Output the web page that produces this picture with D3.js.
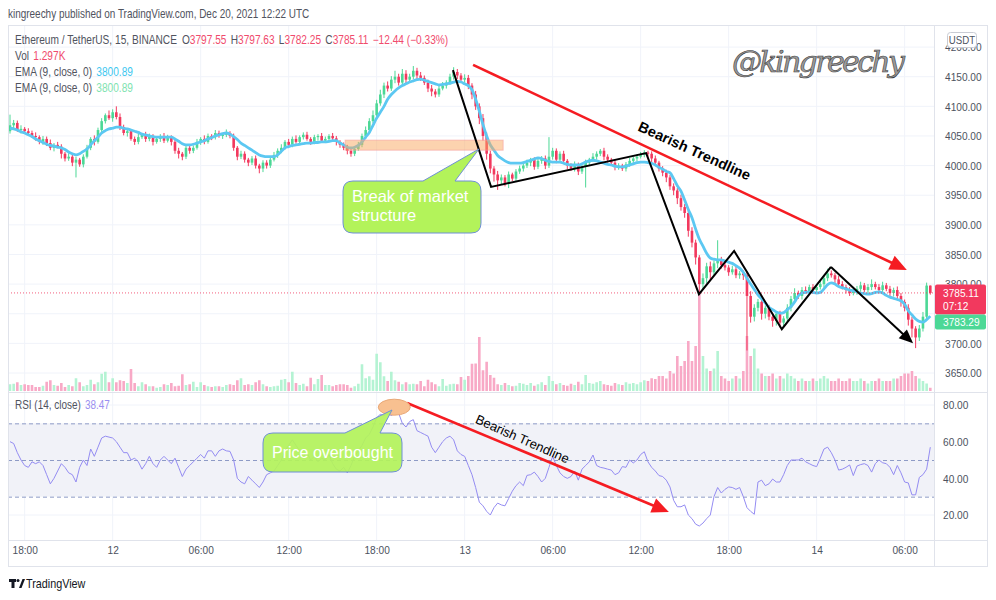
<!DOCTYPE html>
<html><head><meta charset="utf-8">
<script src="https://cdn.jsdelivr.net/npm/d3@7"></script>
<style>
html,body{margin:0;padding:0;background:#fff;}
svg{display:block;}
</style></head><body>
<svg id="chart" width="996" height="600"></svg>
<script>
// ---------------- DATA ----------------
const startTime = "2021-12-11T17:00:00Z";
const candleMinutes = 15;
const firstOpen = 4058;
const closes = [
4068,4072,4060,4062,4058,4055,4050,4048,4040,4045,
4038,4030,4035,4032,4020,4012,4015,4005,4010,4002,
4015,4030,4045,4040,4060,4075,4085,4080,4090,4082,
4065,4055,4058,4045,4040,4048,4052,4045,4050,4040,
4045,4050,4042,4048,4040,4025,4020,4015,4030,4025,
4030,4040,4045,4040,4050,4048,4055,4050,4052,4055,
4050,4030,4015,4020,4010,4005,4012,4000,3995,4005,
4000,4010,4018,4025,4030,4040,4035,4045,4040,4048,
4052,4045,4040,4048,4050,4042,4045,4050,4046,4040,
4035,4030,4025,4020,4028,4035,4050,4060,4075,4085,
4105,4120,4135,4130,4145,4150,4140,4155,4145,4150,
4160,4152,4148,4140,4130,4125,4120,4130,4135,4140,
4150,4158,4152,4145,4148,4135,4120,4100,4080,4050,
4020,3995,3985,3975,3980,3970,3985,3978,3990,3995,
4000,4005,4010,3998,4008,4012,4000,4015,4025,4010,
4020,4008,4000,3995,4002,3990,3998,4005,4010,4015,
4020,4025,4015,4010,4005,3998,4000,3995,4002,4008,
4012,4015,4018,4022,4020,4012,4005,3995,3988,3980,
3965,3958,3945,3930,3920,3890,3870,3845,3800,3810,
3830,3820,3835,3840,3832,3828,3820,3825,3815,3818,
3815,3780,3745,3760,3770,3750,3760,3745,3738,3750,
3735,3742,3760,3775,3785,3780,3790,3788,3795,3790,
3795,3800,3810,3818,3815,3808,3800,3795,3790,3785,
3788,3792,3798,3790,3795,3800,3795,3790,3798,3792,
3785,3790,3780,3770,3760,3740,3725,3710,3725,3745,
3797.55,3785.11];
const wickHigh = [
18,5,4,6,3,5,4,6,3,5, 4,6,3,5,4,3,6,4,5,3, 4,5,3,6,4,5,3,8,5,10,
6,4,5,3,4,6,3,5,4,3, 4,3,5,4,3,4,5,3,4,5, 4,5,3,6,4,3,5,4,3,6,
3,4,3,5,4,3,4,5,3,4, 4,3,5,4,6,3,5,4,6,3, 4,5,3,4,3,5,4,3,5,4,
3,4,5,3,4,5,4,6,5,8, 6,8,5,7,6,10,5,8,6,5, 8,5,6,4,5,6,4,5,6,4,
5,8,5,4,6,5,4,6,5,7, 6,5,4,6,5,4,5,3,4,5, 4,5,3,4,6,4,5,33,5,4,
4,5,3,4,5,3,4,5,3,6, 4,3,5,4,3,5,4,3,4,5, 3,4,5,4,3,4,5,3,4,5,
4,5,4,6,5,4,6,5,4,8, 6,8,5,34,6,5,4,6,5,4, 5,6,8,6,5,6,4,5,6,4,
5,4,6,5,8,4,5,6,4,5, 4,6,5,8,5,4,6,5,4,5, 4,5,6,4,5,8,4,5,6,4,
5,4,6,5,4,6,5,4,6,8, 5,0.08];
const wickLow = [
4,5,3,6,4,5,3,6,4,5, 5,4,6,3,8,5,4,6,25,4, 5,3,4,6,3,5,4,3,6,4,
5,4,6,3,5,4,3,5,4,6, 3,5,4,3,6,5,8,6,4,5, 4,3,5,4,3,5,4,3,5,4,
4,5,6,4,5,6,4,5,8,6, 5,4,3,5,4,3,5,4,3,5, 4,3,5,4,6,3,4,5,4,6,
5,4,6,5,4,3,4,5,3,4, 5,4,6,5,4,6,5,4,6,5, 4,6,5,4,6,8,5,4,3,5,
4,5,6,4,5,6,8,6,10,8, 10,8,12,16,6,5,8,4,5,4, 5,4,6,5,4,5,6,4,5,6,
4,5,6,4,5,6,4,35,5,4, 5,4,6,5,4,6,5,4,5,4, 4,5,3,4,5,6,4,5,6,8,
6,8,10,6,8,10,8,12,15,10, 8,12,6,8,6,5,6,4,5,6, 8,92,10,8,6,10,8,6,10,8,
8,6,5,6,4,5,6,4,5,6, 5,4,6,5,4,6,5,4,6,5, 4,6,5,4,6,5,4,6,5,4,
5,6,5,8,6,10,15,18,6,5, 4,2.86];
const volumesK = [
2.7,2.9,3.5,2.4,2.7,2.4,2.4,1.6,1.6,2.1,
3.7,4.3,2.4,2.1,3.2,1.6,2.4,1.9,5.1,3.5,
1.9,2.4,4.5,2.7,3.5,6.9,7.7,3.5,5.1,3.5,
4.3,4.0,3.2,8.8,3.2,1.9,3.5,2.7,1.9,1.9,
1.3,1.6,2.7,2.4,3.2,1.9,2.1,6.7,2.4,2.7,
3.7,1.6,3.5,2.4,1.9,1.6,1.9,1.9,1.6,2.4,
2.7,2.4,4.3,5.1,2.4,2.7,2.4,3.5,4.3,2.7,
1.9,1.6,1.9,2.1,4.5,4.8,3.5,7.7,3.2,2.4,
2.9,1.9,5.3,2.7,4.8,6.4,2.4,2.4,1.9,2.4,
2.7,2.7,2.4,1.3,1.9,2.9,10.7,5.1,5.9,4.5,
14.9,11.5,5.9,4.0,7.7,4.3,3.7,2.7,3.5,2.7,
2.9,2.7,4.0,1.9,4.5,3.5,2.7,1.9,4.8,2.1,
2.7,2.9,2.7,5.6,4.5,6.0,10.9,11.0,21.6,8.3,
11.7,6.4,5.3,2.7,2.4,3.2,2.4,1.9,2.1,3.2,
2.9,2.4,3.2,2.1,2.7,3.5,2.4,6.0,4.0,2.7,
3.2,2.4,2.1,2.9,2.4,3.7,2.7,6.4,3.2,2.9,
3.5,4.0,2.7,2.4,2.1,3.2,2.7,2.4,3.5,2.9,
3.2,2.7,3.5,4.3,4.0,5.1,4.8,6.0,6.0,5.0,
8.0,7.0,14.0,10.0,12.0,20.0,12.0,18.0,40.0,14.0,
9.0,8.0,9.0,16.0,6.0,5.0,4.0,5.0,6.0,5.0,
8.0,22.0,14.0,17.0,9.0,7.0,6.0,6.0,7.0,5.0,
6.0,5.0,7.0,6.0,5.0,4.0,5.0,4.0,4.0,5.0,
4.0,5.0,6.0,5.0,4.0,4.0,5.0,4.0,4.0,5.0,
4.0,4.0,5.0,4.0,3.0,4.0,4.0,5.0,4.0,4.0,
4.0,5.0,5.0,6.0,7.0,7.0,8.0,6.0,5.0,4.0,
3.0,1.297];
const emaValues = [
4063,4062,4060,4057,4055,4052,4049,4045,4042,4039,
4036,4034,4033,4031,4030,4027,4023,4020,4018,4020,
4024,4028,4035,4042,4048,4055,4059,4062,4063,4065,
4065,4063,4062,4060,4058,4056,4053,4052,4050,4049,
4048,4048,4048,4048,4048,4045,4041,4037,4035,4035,
4036,4038,4040,4042,4045,4047,4050,4052,4054,4055,
4053,4049,4044,4038,4034,4030,4026,4022,4018,4016,
4015,4015,4015,4018,4024,4030,4032,4034,4035,4036,
4037,4038,4038,4039,4039,4040,4040,4041,4042,4042,
4038,4035,4031,4030,4031,4034,4040,4048,4056,4068,
4080,4090,4100,4112,4120,4126,4131,4135,4138,4141,
4143,4145,4146,4144,4142,4140,4138,4136,4137,4138,
4139,4141,4142,4141,4138,4135,4128,4112,4092,4069,
4050,4035,4026,4017,4012,4008,4005,4004,4004,4004,
4005,4007,4009,4011,4013,4012,4009,4007,4006,4006,
4006,4004,4002,4001,4001,4001,4003,4006,4008,4009,
4008,4006,4004,4002,4001,3999,3998,3998,3999,4001,
4003,4005,4006,4006,4005,4004,4001,3997,3994,3990,
3988,3978,3966,3957,3942,3926,3912,3893,3876,3864,
3852,3844,3842,3841,3841,3839,3837,3835,3831,3827,
3820,3810,3800,3791,3782,3775,3768,3761,3757,3753,
3751,3752,3757,3762,3770,3780,3785,3786,3787,3786,
3785,3786,3792,3799,3802,3800,3796,3794,3792,3790,
3789,3787,3785,3784,3783,3784,3786,3787,3785,3781,
3778,3776,3774,3772,3766,3755,3748,3741,3737,3736,
3740,3746];
const rsiValues = [
60,59,54,50,47,46,49,48,49,47,
42,37,40,44,48,46,43,42,38,46,
50,47,56,52,57,62,63,62.5,62,60,
57,54,54,50,51,49,45,48,52,48,
46,50,52,50,48,51,46,41,45,47,
49,51,53,51,55,55,52,55,56,55,
54.7,50,40,38,37,41,39,37,35,38,
42,43,44,47,50,55,58,61,58,55,
52,54,50,52,49,51,50,53,48,45,
44,46,43,47,52,55,58,62,64,68,
73,75,74,77,74,76,75.6,70,68,71,
72,66,65,64,63,57,54,57,60,62,
63,61,55,53,52,47,42,35,27,25,
22,20,24,26.5,25.5,25,29,33,36,38,
36,41.6,42,43.4,41,38,40,46,52,47,
43,41,40,41,44,39,45,47,49,52.7,
47,46,45.6,45,44.5,42,43,46.4,46,50,
48.4,50,53,54.5,49,46,44,41.5,41,39,
35.3,28,24.5,24.5,25.5,20,18,15,14,15.6,
18,20,30,35,32,34,35.3,35,34,35,
30,24,22,20.4,38,39,36,37,39.6,38,
38,42,47,50,50,50,51,49,48,47,
46.4,51,56,57,54,50,44.5,45,46,47.3,
41.5,46.7,47.5,48,47,43.4,48,50,48.5,48,
46,42,47,43,38,37.5,31,31,40.5,42,
45,57];
const priceGridTicks = [3650,3700,3750,3800,3850,3900,3950,4000,4050,4100,4150,4200];
const priceLabelTicks = [3650,3700,3800,3850,3900,3950,4000,4050,4100,4150,4200];
const rsiTicks = [20,40,60,80];
const rsiLevels = [30,50,70];
const timeTicks = ["2021-12-11T18:00:00Z","2021-12-12T00:00:00Z","2021-12-12T06:00:00Z","2021-12-12T12:00:00Z","2021-12-12T18:00:00Z","2021-12-13T00:00:00Z","2021-12-13T06:00:00Z","2021-12-13T12:00:00Z","2021-12-13T18:00:00Z","2021-12-14T00:00:00Z","2021-12-14T06:00:00Z"];
const timeTickLabels = ["18:00","12","06:00","12:00","18:00","13","06:00","12:00","18:00","14","06:00"];
// annotations in data coordinates: [candle index, price or rsi]
const zigzagPoints = [[120.8,4161],[131.2,3964],[173.5,4021],[187.9,3783],[197.5,3856],[210.5,3724],[223.9,3829],[246.3,3700]];
const trendMain = [[126.3,4170],[244.6,3824]];
const trendRsi = [[108.3,81.1],[179.7,21.6]];
const bosZone = [[91.4,4043],[134.5,4026]];
const overboughtMark = [104.8,78.8];
const lastPrice = 3785.11, emaLabelValue = 3783.29;

// ---------------- SETUP ----------------
const SANS = '"Liberation Sans",Arial,sans-serif';
const svg = d3.select("#chart");
const t0 = new Date(startTime).getTime();
const timeOf = i => new Date(t0 + i*candleMinutes*60000);
const n = closes.length;
const candles = closes.map((c,i)=>{
  const o = i===0 ? firstOpen : closes[i-1];
  return {i, t: timeOf(i), o, c, h: Math.max(o,c)+wickHigh[i], l: Math.min(o,c)-wickLow[i], v: volumesK[i]};
});

const paneL = 8, paneR = 934, mainTop = 25, mainBot = 392, rsiTop = 393, rsiBot = 540, axisBot = 566, outerR = 987;
const x = d3.scaleUtc().domain([timeOf(0), timeOf(n-1)]).range([10, 930.3]);
const xi = i => x(timeOf(i));
const yP = d3.scaleLinear().domain([3650,4150]).range([373,76.7]);
const yV = d3.scaleLinear().domain([0,40]).range([391,291]);
const yR = d3.scaleLinear().domain([20,80]).range([515,405]);

// condensed text helper (no narrow font installed -> horizontal scale)
function ntext(parent, tx, ty, size, sx, fill){
  return parent.append("text").attr("transform",`translate(${tx},${ty}) scale(${sx},1)`)
    .attr("font-family",SANS).attr("font-size",size).attr("fill",fill||"#50535e");
}

const defs = svg.append("defs");
defs.append("clipPath").attr("id","clipMain").append("rect").attr("x",paneL).attr("y",mainTop).attr("width",paneR-paneL).attr("height",mainBot-mainTop);
defs.append("clipPath").attr("id","clipRsi").append("rect").attr("x",paneL).attr("y",rsiTop).attr("width",paneR-paneL).attr("height",rsiBot-rsiTop);

svg.append("rect").attr("width",996).attr("height",600).attr("fill","#fff");

// header
ntext(svg,8,18,12,0.83,"#50535e").text("kingreechy published on TradingView.com, Dec 20, 2021 12:22 UTC");

// grid
const grid = svg.append("g");
const tickDates = timeTicks.map(s=>new Date(s));
grid.selectAll(".vg").data(tickDates).join("line").attr("x1",d=>x(d)).attr("x2",d=>x(d)).attr("y1",mainTop).attr("y2",rsiBot).attr("stroke","#f0f3fa");
grid.selectAll(".hg").data(priceGridTicks).join("line").attr("x1",paneL).attr("x2",paneR).attr("y1",d=>yP(d)).attr("y2",d=>yP(d)).attr("stroke","#f0f3fa").attr("clip-path","url(#clipMain)");
grid.selectAll(".rg").data(rsiTicks).join("line").attr("x1",paneL).attr("x2",paneR).attr("y1",d=>yR(d)).attr("y2",d=>yR(d)).attr("stroke","#f0f3fa");

// RSI band & levels
svg.append("rect").attr("x",paneL).attr("width",paneR-paneL).attr("y",yR(70)).attr("height",yR(30)-yR(70)).attr("fill","#f1f2f8");
svg.selectAll(".lvl").data(rsiLevels).join("line").attr("x1",paneL).attr("x2",paneR).attr("y1",d=>yR(d)+0.5).attr("y2",d=>yR(d)+0.5)
  .attr("stroke","#8e9bc6").attr("stroke-dasharray","4,3");

// volume
const main = svg.append("g").attr("clip-path","url(#clipMain)");
const bw = 2.6;
main.selectAll(".vol").data(candles).join("rect")
  .attr("x",d=>xi(d.i)-bw/2).attr("width",bw)
  .attr("y",d=>yV(d.v)).attr("height",d=>yV(0)-yV(d.v))
  .attr("fill",d=>d.c>=d.o?"#b4f3d3":"#f8a9c6");

// candles
main.selectAll(".wick").data(candles).join("line")
  .attr("x1",d=>xi(d.i)).attr("x2",d=>xi(d.i)).attr("y1",d=>yP(d.h)).attr("y2",d=>yP(d.l))
  .attr("stroke",d=>d.c>=d.o?"#4cd896":"#f2395e").attr("stroke-width",1);
main.selectAll(".body").data(candles).join("rect")
  .attr("x",d=>xi(d.i)-bw/2).attr("width",bw)
  .attr("y",d=>yP(Math.max(d.o,d.c))).attr("height",d=>Math.max(1,Math.abs(yP(d.o)-yP(d.c))))
  .attr("fill",d=>d.c>=d.o?"#4cd896":"#f2395e");

// EMA
main.append("path").datum(emaValues).attr("fill","none").attr("stroke","#5cc8f2").attr("stroke-width",2.8).attr("stroke-linejoin","round")
  .attr("d",d3.line().x((d,i)=>xi(i)).y(d=>yP(d)).curve(d3.curveMonotoneX));

// last price line
main.append("line").attr("x1",paneL).attr("x2",paneR).attr("y1",yP(lastPrice)).attr("y2",yP(lastPrice))
  .attr("stroke","#f2395e").attr("stroke-dasharray","1,2").attr("opacity",0.8);

// RSI line
const rsiG = svg.append("g").attr("clip-path","url(#clipRsi)");
rsiG.append("path").datum(rsiValues).attr("fill","none").attr("stroke","#948cf2").attr("stroke-width",1)
  .attr("d",d3.line().x((d,i)=>xi(i)).y(d=>yR(d)));

// ---------- annotations ----------
function arrow(g,x1,y1,x2,y2,color,w,hl,hw){
  const a = Math.atan2(y2-y1,x2-x1);
  const bx = x2-hl*Math.cos(a), by = y2-hl*Math.sin(a);
  g.append("line").attr("x1",x1).attr("y1",y1).attr("x2",bx+2*Math.cos(a)).attr("y2",by+2*Math.sin(a)).attr("stroke",color).attr("stroke-width",w);
  const px = Math.sin(a)*hw/2, py = -Math.cos(a)*hw/2;
  g.append("polygon").attr("points",`${x2},${y2} ${bx+px},${by+py} ${bx-px},${by-py}`).attr("fill",color);
}
const ann = svg.append("g");
ann.append("rect").attr("x",xi(bosZone[0][0])).attr("y",yP(bosZone[0][1]))
  .attr("width",xi(bosZone[1][0])-xi(bosZone[0][0])).attr("height",yP(bosZone[1][1])-yP(bosZone[0][1]))
  .attr("fill","#f9a860").attr("fill-opacity",0.5).attr("stroke","#f7a0a0").attr("stroke-opacity",0.6);
const zz = zigzagPoints.map(p=>[xi(p[0]),yP(p[1])]);
ann.append("path").attr("d",d3.line()(zz.slice(0,-1))).attr("fill","none").attr("stroke","#000").attr("stroke-width",2).attr("stroke-linejoin","miter");
arrow(ann,zz[zz.length-2][0],zz[zz.length-2][1],zz[zz.length-1][0],zz[zz.length-1][1],"#000",2,14,12);
arrow(ann,xi(trendMain[0][0]),yP(trendMain[0][1]),xi(trendMain[1][0]),yP(trendMain[1][1]),"#f51c22",2.6,17,15);
ann.append("text").attr("transform","translate(694,152) rotate(24.5)").attr("text-anchor","middle").attr("dominant-baseline","middle")
  .attr("font-family",SANS).attr("font-weight","bold").attr("font-size",14.5).attr("fill","#000").text("Bearish Trendline");
arrow(ann,xi(trendRsi[0][0]),yR(trendRsi[0][1]),xi(trendRsi[1][0]),yR(trendRsi[1][1]),"#f51c22",2.6,17,15);
ann.append("text").attr("transform","translate(522,440) rotate(24)").attr("text-anchor","middle").attr("dominant-baseline","middle")
  .attr("font-family",SANS).attr("font-size",13).attr("fill","#000").text("Bearish Trendline");

function callout(x0,y0,w,h,r,pa,pb,tx,ty){
  return `M${x0+r},${y0} L${pa},${y0} L${tx},${ty} L${pb},${y0} L${x0+w-r},${y0} Q${x0+w},${y0} ${x0+w},${y0+r} L${x0+w},${y0+h-r} Q${x0+w},${y0+h} ${x0+w-r},${y0+h} L${x0+r},${y0+h} Q${x0},${y0+h} ${x0},${y0+h-r} L${x0},${y0+r} Q${x0},${y0} ${x0+r},${y0} Z`;
}
ann.append("ellipse").attr("cx",xi(overboughtMark[0])).attr("cy",yR(overboughtMark[1])).attr("rx",16).attr("ry",8)
  .attr("fill","#f8c090").attr("stroke","#e9a877").attr("stroke-width",1);
ann.append("path").attr("d",callout(343,181,138,52,10,423,455,479,149)).attr("fill","#b3f35a").attr("stroke","#6f8fd6").attr("stroke-width",1);
ann.append("text").attr("x",352).attr("y",202).attr("font-family",SANS).attr("font-size",16.5).attr("fill","#fff").text("Break of market");
ann.append("text").attr("x",352).attr("y",221).attr("font-family",SANS).attr("font-size",16.5).attr("fill","#fff").text("structure");
ann.append("path").attr("d",callout(263,433,139,39,10,345,380,392,410)).attr("fill","#b3f35a").attr("fill-opacity",0.92).attr("stroke","#6f8fd6").attr("stroke-width",1);
ann.append("text").attr("x",332.5).attr("y",458).attr("text-anchor","middle").attr("font-family",SANS).attr("font-size",16).attr("fill","#fff").text("Price overbought");

// watermark
svg.append("text").attr("x",732).attr("y",72).attr("font-family",'"DejaVu Serif",serif').attr("font-style","italic").attr("font-size",30)
  .attr("textLength",173).attr("fill","#9a9a9a").attr("stroke","#3a3a3a").attr("stroke-width",0.6).text("@kingreechy");

// ---------- frame ----------
const frame = svg.append("g").attr("fill","none").attr("stroke","#e0e3eb");
frame.append("rect").attr("x",paneL+0.5).attr("y",mainTop+0.5).attr("width",outerR-paneL).attr("height",axisBot-mainTop);
frame.append("line").attr("x1",paneR+0.5).attr("x2",paneR+0.5).attr("y1",mainTop).attr("y2",axisBot);
frame.append("line").attr("x1",paneL).attr("x2",outerR).attr("y1",rsiTop-0.5).attr("y2",rsiTop-0.5);
frame.append("line").attr("x1",paneL).attr("x2",outerR).attr("y1",rsiBot+0.5).attr("y2",rsiBot+0.5);

// ---------- axes ----------
function styleAxis(g){ g.select(".domain").remove(); g.selectAll("line").remove();
  g.selectAll("text").attr("font-family",SANS).attr("font-size",11.5).attr("fill","#4c525e")
   .attr("transform",function(){ return `scale(0.88,1)`; }); }
svg.append("g").attr("transform","translate(945,0)")
  .call(d3.axisRight(yP).tickValues(priceLabelTicks).tickSize(0).tickPadding(0).tickFormat(d3.format(".2f"))).call(styleAxis);
svg.append("g").attr("transform","translate(943,0)")
  .call(d3.axisRight(yR).tickValues(rsiTicks).tickSize(0).tickPadding(0).tickFormat(d3.format(".2f"))).call(styleAxis);
svg.append("g").attr("transform",`translate(0,${rsiBot+6})`)
  .call(d3.axisBottom(x).tickValues(tickDates).tickSize(0).tickPadding(0).tickFormat((d,i)=>timeTickLabels[i])).call(styleAxis);

// USDT box
svg.append("rect").attr("x",947.5).attr("y",32.5).attr("width",29).attr("height",15).attr("rx",3).attr("fill","#fff").attr("stroke","#c9ccd4");
ntext(svg,962,44,11,0.88,"#4c525e").attr("text-anchor","middle").text("USDT");

// price labels
const ly = yP(lastPrice);
const f2 = d3.format(".2f");
svg.append("rect").attr("x",935).attr("y",ly-8.5).attr("width",51).attr("height",30).attr("rx",2).attr("fill","#f2395e");
ntext(svg,943,ly+4,11.5,0.88,"#fff").text(f2(lastPrice));
ntext(svg,943,ly+17,11.5,0.88,"#fff").text("07:12");
svg.append("rect").attr("x",935).attr("y",ly+21.5).attr("width",51).attr("height",15).attr("rx",2).attr("fill","#4cd896");
ntext(svg,943,ly+33,11.5,0.88,"#fff").text(f2(emaLabelValue));

// ---------- legends ----------
const last = candles[n-1];
const red = "#f04b6d";
const lg1 = ntext(svg,15,44,12,0.845);
lg1.append("tspan").text("Ethereum / TetherUS, 15, BINANCE");
[["O",last.o],["H",last.h],["L",last.l],["C",last.c]].forEach(([k,v])=>{
  lg1.append("tspan").attr("dx",k==="O"?6:5).text(k);
  lg1.append("tspan").attr("fill",red).text(f2(v));
});
lg1.append("tspan").attr("dx",5).attr("fill",red).text("\u221212.44 (\u22120.33%)");
const lg2 = ntext(svg,15,60,12,0.845);
lg2.append("tspan").text("Vol"); lg2.append("tspan").attr("dx",5).attr("fill",red).text(d3.format(".3f")(last.v)+"K");
const lg3 = ntext(svg,15,76,12,0.845);
lg3.append("tspan").text("EMA (9, close, 0)"); lg3.append("tspan").attr("dx",5).attr("fill","#3ec7f0").text("3800.89");
const lg4 = ntext(svg,15,92,12,0.845);
lg4.append("tspan").text("EMA (9, close, 0)"); lg4.append("tspan").attr("dx",5).attr("fill","#7fe3b0").text("3800.89");
const lg5 = ntext(svg,15,409,12,0.83);
lg5.append("tspan").text("RSI (14, close)"); lg5.append("tspan").attr("dx",5).attr("fill","#9a8ff0").text("38.47");

// ---------- TradingView footer ----------
const tv = svg.append("g").attr("fill","#131722");
tv.append("rect").attr("x",9).attr("y",579).attr("width",7).attr("height",3);
tv.append("rect").attr("x",11.5).attr("y",579).attr("width",3).attr("height",9);
tv.append("circle").attr("cx",18).attr("cy",580.5).attr("r",1.5);
tv.append("polygon").attr("points","19,588 22.5,579 25,579 21.5,588");
ntext(svg,26,588,12,0.9,"#131722").text("TradingView");
</script>
</body></html>
